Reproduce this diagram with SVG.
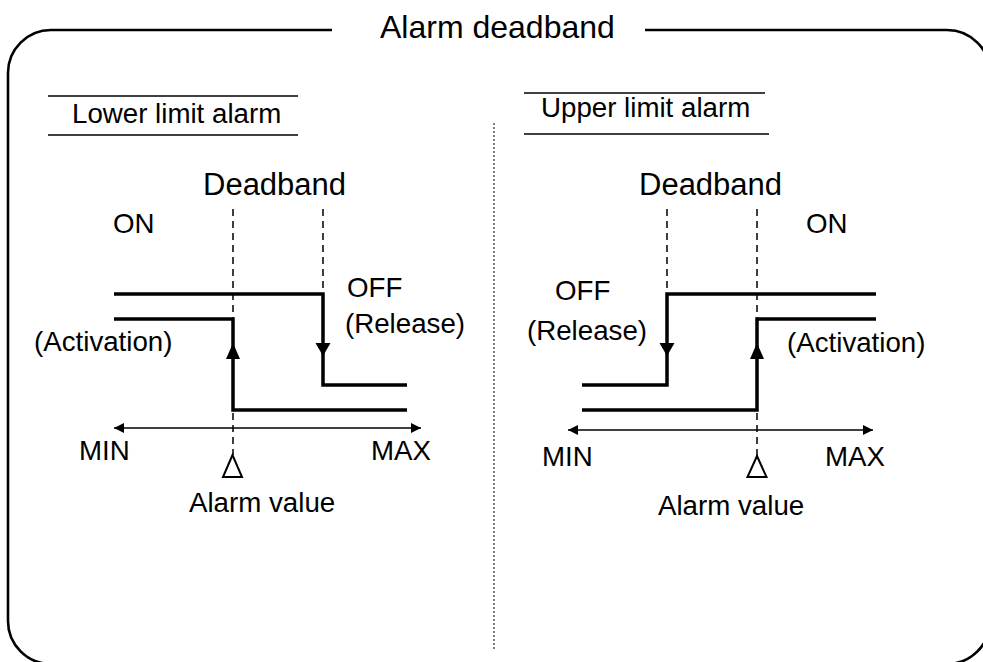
<svg xmlns="http://www.w3.org/2000/svg" width="983" height="662" viewBox="0 0 983 662">
<style>
text{font-family:"Liberation Sans",Arial,sans-serif;fill:#000}
.s{font-size:27.7px}
.m{font-size:31px}
.t{font-size:32px}
.sig{fill:none;stroke:#000;stroke-width:3.5}
.dash{fill:none;stroke:#000;stroke-width:1.5;stroke-dasharray:7,5}
.axis{fill:none;stroke:#000;stroke-width:1.4}
.thin{fill:none;stroke:#000;stroke-width:1.5}
.tri{fill:#fff;stroke:#000;stroke-width:2}
.ah{fill:#000}
</style>
<defs>
<marker id="axh" viewBox="0 0 10 10" refX="10" refY="5" markerWidth="10" markerHeight="10" markerUnits="userSpaceOnUse" orient="auto-start-reverse">
<path d="M0,0 L10,5 L0,10 Z" fill="#000"/>
</marker>
</defs>
<g id="frame">
<path d="M332,30 H51 A43,43 0 0 0 8,73 V621 A43,43 0 0 0 51,664 H947 A43,43 0 0 0 990,621 V73 A43,43 0 0 0 947,30 H645" fill="none" stroke="#000" stroke-width="2.6"/>
<text class="t" x="380" y="38">Alarm deadband</text>
<line x1="494" y1="123" x2="494" y2="650" stroke="#000" stroke-width="1" stroke-dasharray="2,2"/>
</g>
<g id="lower-limit">
<g id="lower-title">
<line class="thin" x1="48" y1="96" x2="298" y2="96"/>
<line class="thin" x1="48" y1="135" x2="298" y2="135"/>
<text class="s" x="72" y="123">Lower limit alarm</text>
</g>
<g id="lower-connectors">
<line class="dash" x1="233" y1="209" x2="233" y2="455"/>
<line class="dash" x1="323" y1="209" x2="323" y2="294"/>
<path class="sig" d="M114,294 H323 V385 H407"/>
<path class="sig" d="M114,319 H233 V410 H407"/>
<path class="ah" d="M315.5,343 L330.5,343 L323,356 Z"/>
<path class="ah" d="M226,359 L240,359 L233,343 Z"/>
<line class="axis" x1="114" y1="428" x2="421" y2="428" marker-start="url(#axh)" marker-end="url(#axh)"/>
<path class="tri" d="M232.5,455 L223,477 L242,477 Z"/>
</g>
<g id="lower-labels">
<text class="m" x="203" y="195">Deadband</text>
<text class="s" x="113" y="233">ON</text>
<text class="s" x="347" y="297">OFF</text>
<text class="s" x="345" y="333">(Release)</text>
<text class="s" x="34" y="351">(Activation)</text>
<text class="s" x="79" y="460">MIN</text>
<text class="s" x="371" y="460">MAX</text>
<text class="s" x="189" y="512">Alarm value</text>
</g>
</g>
<g id="upper-limit">
<g id="upper-title">
<line class="thin" x1="524" y1="93" x2="765" y2="93"/>
<line class="thin" x1="524" y1="134" x2="769" y2="134"/>
<text class="s" x="541" y="117">Upper limit alarm</text>
</g>
<g id="upper-connectors">
<line class="dash" x1="667" y1="209" x2="667" y2="294"/>
<line class="dash" x1="757" y1="209" x2="757" y2="456"/>
<path class="sig" d="M582,385 H667 V294 H876"/>
<path class="sig" d="M582,410 H757 V319 H876"/>
<path class="ah" d="M659.5,343 L674.5,343 L667,356 Z"/>
<path class="ah" d="M750,359 L764,359 L757,343 Z"/>
<line class="axis" x1="568" y1="430" x2="873" y2="430" marker-start="url(#axh)" marker-end="url(#axh)"/>
<path class="tri" d="M757,456 L747.5,477 L766.5,477 Z"/>
</g>
<g id="upper-labels">
<text class="m" x="639" y="195">Deadband</text>
<text class="s" x="806" y="233">ON</text>
<text class="s" x="555" y="300">OFF</text>
<text class="s" x="527" y="340">(Release)</text>
<text class="s" x="787" y="352">(Activation)</text>
<text class="s" x="542" y="466">MIN</text>
<text class="s" x="825" y="466">MAX</text>
<text class="s" x="658" y="515">Alarm value</text>
</g>
</g>
</svg>
